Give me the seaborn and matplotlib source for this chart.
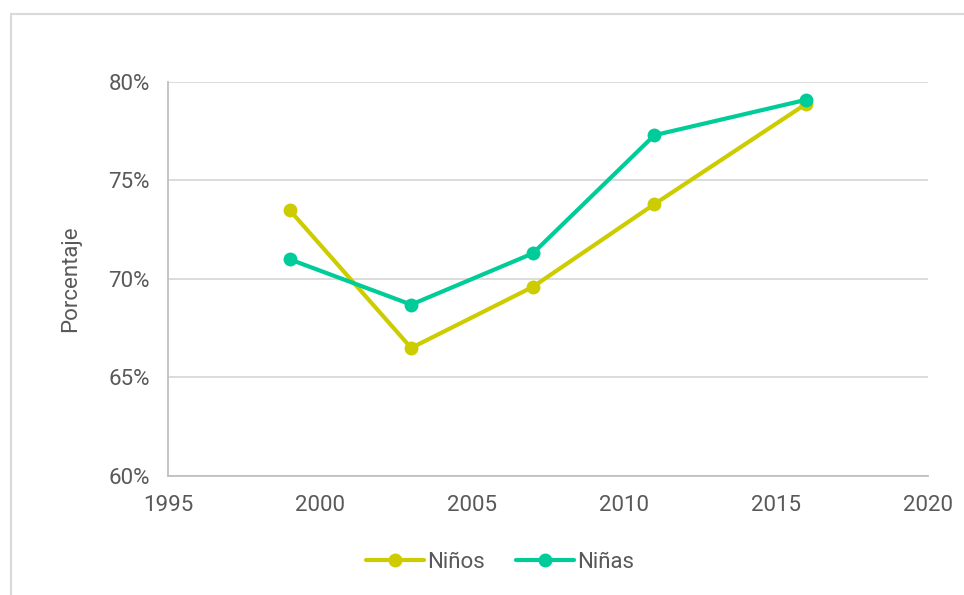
import matplotlib
matplotlib.use("Agg")
import matplotlib.pyplot as plt
import matplotlib.patches as mpatches
import seaborn as sns
import pandas as pd
from matplotlib.ticker import FuncFormatter

# Survey years and share (%) for each group
years = [1999, 2003, 2007, 2011, 2016]
ninos = [73.5, 66.5, 69.6, 73.8, 78.9]
ninas = [71.0, 68.7, 71.3, 77.3, 79.1]
series_names = ["Niños", "Niñas"]
colors = ["#CCCC00", "#00CC99"]

df = pd.DataFrame({
    "Año": years * 2,
    "Porcentaje": ninos + ninas,
    "Grupo": [series_names[0]] * len(years) + [series_names[1]] * len(years),
})

sns.set_theme(style="white")
plt.rcParams["font.family"] = ["Roboto", "DejaVu Sans"]

fig = plt.figure(figsize=(9.64, 5.95), dpi=100)
ax = fig.add_axes([168 / 964, 1 - 476 / 595, (928 - 168) / 964, (476 - 82) / 595])

# outer chart frame
fig.patches.append(mpatches.Rectangle((11 / 964, -0.05), 1.2, 1 - 14 / 595 + 0.05,
                                      transform=fig.transFigure, fill=False,
                                      edgecolor="#D9D9D9", linewidth=1.5))

sns.lineplot(data=df, x="Año", y="Porcentaje", hue="Grupo", palette=colors,
             marker="o", markersize=10, markeredgewidth=0, linewidth=3,
             ax=ax, legend=True)

ax.set_xlim(1995, 2020)
ax.set_ylim(60, 80)
ax.set_xticks([1995, 2000, 2005, 2010, 2015, 2020])
ax.set_yticks([60, 65, 70, 75, 80])
ax.yaxis.set_major_formatter(FuncFormatter(lambda v, p: f"{v:.0f}%"))
ax.grid(axis="y", color="#D9D9D9", linewidth=1.3)
ax.set_axisbelow(True)
for s in ["top", "right"]:
    ax.spines[s].set_visible(False)
for s in ["left", "bottom"]:
    ax.spines[s].set_color("#BFBFBF")
    ax.spines[s].set_linewidth(1.3)
ax.tick_params(axis="both", length=0, labelsize=16, colors="#595959")
ax.tick_params(axis="x", pad=14)
ax.tick_params(axis="y", pad=13)
ax.set_xlabel("")
ax.set_ylabel("Porcentaje", fontsize=16, color="#595959", labelpad=20)

leg = ax.legend(loc="center", bbox_to_anchor=(500 / 964, 1 - 562 / 595),
                bbox_transform=fig.transFigure, ncol=2, frameon=False,
                fontsize=16, handlelength=2.6, columnspacing=1.4, handletextpad=0.15)
for t in leg.get_texts():
    t.set_color("#595959")

fig.savefig("out.png", dpi=100)
